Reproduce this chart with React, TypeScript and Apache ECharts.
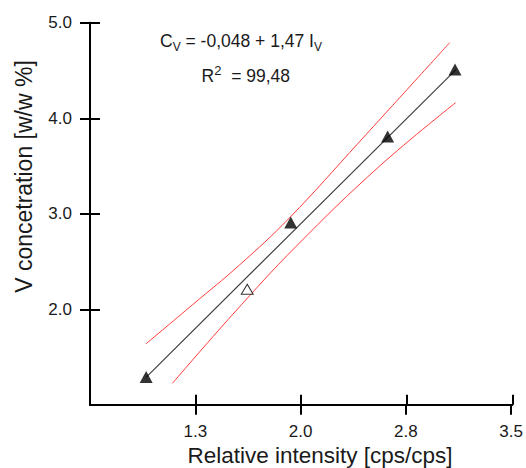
import React, { useEffect, useRef } from "react";
import * as echarts from "echarts";

// Axis ticks (tick positions and their printed labels)
const xTickValues = [1.25, 2.0, 2.75, 3.5];
const xTickLabels = ["1.3", "2.0", "2.8", "3.5"];
const yTickValues = [2, 3, 4, 5];
const yTickLabels = ["2.0", "3.0", "4.0", "5.0"];

// Calibration standards (filled triangles)
const calibIntensity = [0.90, 1.93, 2.62, 3.10];
const calibConc = [1.29, 2.91, 3.81, 4.51];

// Validation sample (open triangle)
const testIntensity = [1.62];
const testConc = [2.21];

// Fitted regression line end points
const fitIntensity = [0.90, 3.10];
const fitConc = [1.29, 4.51];

// Upper confidence band
const upperIntensity = [0.898, 1.232, 1.565, 1.920, 2.418, 3.062];
const upperConc = [1.637, 2.050, 2.464, 2.956, 3.752, 4.792];

// Lower confidence band
const lowerIntensity = [1.087, 1.518, 1.968, 2.560, 3.104];
const lowerConc = [1.225, 1.949, 2.659, 3.496, 4.163];

const FONT = "'Liberation Sans', Arial, sans-serif";
const TXT = "#1a1a1a";

const zip = (a: number[], b: number[]) => a.map((v, i) => [v, b[i]]);

export default function App() {
  const ref = useRef<HTMLDivElement>(null);

  useEffect(() => {
    if (!ref.current) return;
    const chart = echarts.init(ref.current, null, { renderer: "svg" });

    const xLabel = (v: number) => {
      const i = xTickValues.findIndex((t) => Math.abs(t - v) < 1e-6);
      return i >= 0 ? xTickLabels[i] : "";
    };
    const yLabel = (v: number) => {
      const i = yTickValues.findIndex((t) => Math.abs(t - v) < 1e-6);
      return i >= 0 ? yTickLabels[i] : "";
    };

    const axisBlack = { color: "#000", width: 2 };
    const gridBox = { left: 90, right: 13.7, top: 22.8, bottom: 63.2 };

    chart.setOption({
      animation: false,
      backgroundColor: "#fff",
      grid: [gridBox, { ...gridBox }],
      xAxis: [
        {
          gridIndex: 0,
          type: "value",
          min: 0.5,
          max: 3.5,
          position: "bottom",
          axisLine: { show: true, lineStyle: axisBlack },
          axisTick: { show: true, customValues: xTickValues, length: 10, lineStyle: axisBlack },
          axisLabel: {
            customValues: xTickValues,
            formatter: xLabel,
            fontSize: 17,
            fontFamily: FONT,
            color: TXT,
            margin: 18,
          },
          splitLine: { show: false },
        },
        {
          gridIndex: 1,
          type: "value",
          min: 0.5,
          max: 3.5,
          position: "bottom",
          axisLine: { show: true, lineStyle: axisBlack },
          axisTick: { show: true, inside: true, customValues: xTickValues, length: 10, lineStyle: axisBlack },
          axisLabel: { show: false },
          splitLine: { show: false },
        },
      ],
      yAxis: [
        {
          gridIndex: 0,
          type: "value",
          min: 1,
          max: 5,
          position: "left",
          axisLine: { show: true, lineStyle: axisBlack },
          axisTick: { show: true, customValues: yTickValues, length: 10, lineStyle: axisBlack },
          axisLabel: {
            customValues: yTickValues,
            formatter: yLabel,
            fontSize: 17,
            fontFamily: FONT,
            color: TXT,
            margin: 18,
          },
          splitLine: { show: false },
        },
        {
          gridIndex: 1,
          type: "value",
          min: 1,
          max: 5,
          position: "left",
          axisLine: { show: true, lineStyle: axisBlack },
          axisTick: { show: true, inside: true, customValues: yTickValues, length: 10, lineStyle: axisBlack },
          axisLabel: { show: false },
          splitLine: { show: false },
        },
      ],
      graphic: [
        {
          type: "text",
          x: 160,
          y: 41,
          style: {
            text: "{n|C}{s|V}{n| = -0,048 + 1,47 I}{s|V}",
            align: "left",
            verticalAlign: "middle",
            rich: {
              n: { fontSize: 17.5, fontFamily: FONT, fill: TXT, lineHeight: 24, verticalAlign: "middle" },
              s: { fontSize: 12, fontFamily: FONT, fill: TXT, lineHeight: 12, verticalAlign: "bottom" },
            },
          },
        },
        {
          type: "text",
          x: 201.6,
          y: 76,
          style: {
            text: "{n|R}{p|2}{n|  = 99,48}",
            align: "left",
            verticalAlign: "middle",
            rich: {
              n: { fontSize: 17.5, fontFamily: FONT, fill: TXT, lineHeight: 24, verticalAlign: "middle" },
              p: { fontSize: 13, fontFamily: FONT, fill: TXT, lineHeight: 13, verticalAlign: "top" },
            },
          },
        },
        {
          type: "text",
          x: 320,
          y: 455,
          style: {
            text: "Relative intensity [cps/cps]",
            fontSize: 22.5,
            fontFamily: FONT,
            fill: TXT,
            align: "center",
            verticalAlign: "middle",
          },
        },
        {
          type: "text",
          x: 23.5,
          y: 176.5,
          rotation: Math.PI / 2,
          style: {
            text: "V concetration [w/w %]",
            fontSize: 23,
            fontFamily: FONT,
            fill: TXT,
            align: "center",
            verticalAlign: "middle",
          },
        },
      ],
      series: [
        {
          type: "line",
          data: zip(upperIntensity, upperConc),
          symbol: "none",
          smooth: 0.4,
          lineStyle: { color: "#ff3b3b", width: 1 },
          z: 2,
        },
        {
          type: "line",
          data: zip(lowerIntensity, lowerConc),
          symbol: "none",
          smooth: 0.4,
          lineStyle: { color: "#ff3b3b", width: 1 },
          z: 2,
        },
        {
          type: "line",
          xAxisIndex: 1,
          yAxisIndex: 1,
          data: zip(fitIntensity, fitConc),
          symbol: "none",
          lineStyle: { color: "#404040", width: 1.2 },
          z: 3,
        },
        {
          type: "scatter",
          data: zip(calibIntensity, calibConc),
          symbol: "triangle",
          symbolSize: [13, 12],
          itemStyle: { color: "#000" },
          z: 4,
        },
        {
          type: "scatter",
          data: zip(testIntensity, testConc),
          symbol: "triangle",
          symbolSize: [12, 10],
          itemStyle: { color: "#fff", borderColor: "#000", borderWidth: 1 },
          z: 4,
        },
      ],
    });

    return () => chart.dispose();
  }, []);

  return (
    <div
      ref={ref}
      style={{ position: "fixed", left: 0, top: 0, width: 526, height: 468, background: "#fff" }}
    />
  );
}
